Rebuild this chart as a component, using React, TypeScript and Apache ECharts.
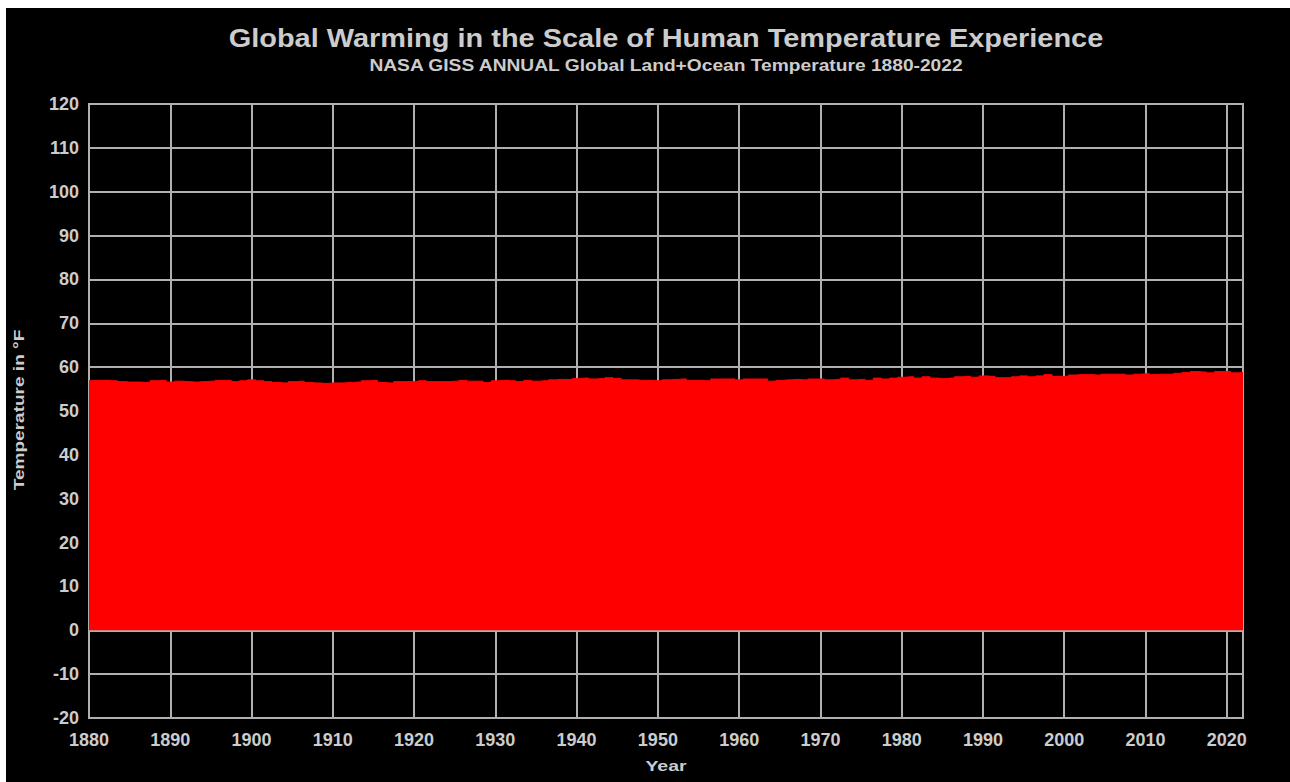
import React, { useEffect, useRef } from "react";
import * as echarts from "echarts";

const years: number[] = [];
for (let y = 1880; y <= 2022; y++) years.push(y);

// Annual global temperature in °F
const tempF: number[] = [
  56.9, 57.0, 57.0, 56.9, 56.7, 56.6, 56.6, 56.5, 56.9, 57.0,
  56.6, 56.8, 56.7, 56.6, 56.7, 56.8, 57.0, 57.0, 56.7, 56.9,
  57.1, 56.9, 56.7, 56.5, 56.4, 56.7, 56.8, 56.5, 56.4, 56.3,
  56.4, 56.4, 56.5, 56.6, 56.9, 57.0, 56.5, 56.4, 56.7, 56.7,
  56.7, 56.9, 56.7, 56.7, 56.7, 56.8, 57.0, 56.8, 56.8, 56.5,
  56.9, 57.0, 56.9, 56.7, 57.0, 56.8, 56.9, 57.1, 57.2, 57.2,
  57.4, 57.5, 57.3, 57.4, 57.6, 57.4, 57.1, 57.1, 57.0, 57.0,
  56.9, 57.1, 57.2, 57.3, 57.0, 57.0, 56.9, 57.3, 57.3, 57.3,
  57.1, 57.3, 57.3, 57.3, 56.8, 57.0, 57.1, 57.2, 57.1, 57.3,
  57.3, 57.1, 57.2, 57.5, 57.1, 57.2, 57.0, 57.5, 57.3, 57.5,
  57.7, 57.8, 57.5, 57.8, 57.5, 57.4, 57.5, 57.8, 57.9, 57.7,
  58.0, 57.9, 57.6, 57.6, 57.8, 58.0, 57.8, 58.0, 58.3, 57.9,
  57.9, 58.2, 58.3, 58.3, 58.2, 58.4, 58.4, 58.4, 58.2, 58.4,
  58.5, 58.3, 58.4, 58.4, 58.6, 58.8, 59.0, 58.9, 58.7, 59.0,
  59.0, 58.7, 58.8,
];

const titleText = "Global Warming in the Scale of Human Temperature Experience";
const subtitleText = "NASA GISS ANNUAL Global Land+Ocean Temperature 1880-2022";
const xName = "Year";
const yName = "Temperature in °F";

const FONT = "'Liberation Sans', Arial, sans-serif";
const TEXT = "#cccccc";
const GRID = "#b0b0b0";

export default function App() {
  const ref = useRef<HTMLDivElement>(null);
  useEffect(() => {
    if (!ref.current) return;
    const chart = echarts.init(ref.current, undefined, { renderer: "svg" });
    const data = years.map((y, i) => [y, tempF[i]]);
    const textStyle = (size: number) => ({
      fill: TEXT,
      fontFamily: FONT,
      fontWeight: "bold",
      fontSize: size,
      textAlign: "center",
      textVerticalAlign: "middle",
      verticalAlign: "middle",
    });
    chart.setOption({
      animation: false,
      backgroundColor: "#000000",
      graphic: [
        {
          type: "text",
          x: 660,
          y: 30,
          scaleX: 1.113,
          style: { text: titleText, ...textStyle(26) },
        },
        {
          type: "text",
          x: 660,
          y: 57.5,
          scaleX: 1.2,
          style: { text: subtitleText, ...textStyle(16) },
        },
        {
          type: "text",
          x: 13,
          y: 402,
          rotation: Math.PI / 2,
          scaleX: 1.27,
          style: { text: yName, ...textStyle(15) },
        },
        {
          type: "text",
          x: 660,
          y: 758,
          scaleX: 1.3,
          style: { text: xName, ...textStyle(15) },
        },
      ],
      grid: {
        left: 83,
        top: 96,
        right: 47,
        bottom: 64,
        show: true,
        borderColor: GRID,
        borderWidth: 2,
        backgroundColor: "transparent",
      },
      xAxis: {
        type: "value",
        min: 1880,
        max: 2022,
        interval: 10,
        axisLine: { show: true, onZero: false, lineStyle: { color: GRID, width: 2 } },
        axisTick: { show: false },
        axisLabel: {
          color: TEXT,
          fontFamily: FONT,
          fontWeight: "bold",
          fontSize: 18,
          margin: 13,
          showMaxLabel: false,
          formatter: (v: number) => String(v),
        },
        splitLine: { show: true, lineStyle: { color: GRID, width: 2 } },
      },
      yAxis: {
        type: "value",
        min: -20,
        max: 120,
        interval: 10,
        axisLine: { show: true, lineStyle: { color: GRID, width: 2 } },
        axisTick: { show: false },
        axisLabel: {
          color: TEXT,
          fontFamily: FONT,
          fontWeight: "bold",
          fontSize: 18,
          margin: 10,
        },
        splitLine: { show: true, lineStyle: { color: GRID, width: 2 } },
      },
      series: [
        {
          type: "line",
          data,
          step: "middle",
          showSymbol: false,
          symbol: "none",
          lineStyle: { color: "#ff0000", width: 1 },
          areaStyle: { color: "#ff0000", opacity: 1 },
          itemStyle: { color: "#ff0000" },
        },
      ],
    });
    return () => chart.dispose();
  }, []);
  return (
    <div
      ref={ref}
      style={{ position: "absolute", left: 6, top: 8, width: 1284, height: 774 }}
    />
  );
}
